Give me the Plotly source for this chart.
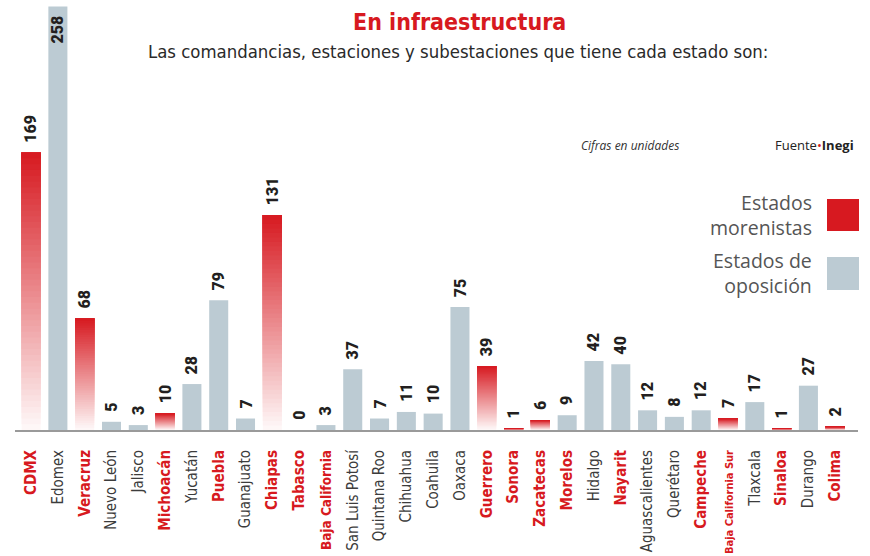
import plotly.graph_objects as go

states = ["CDMX", "Edomex", "Veracruz", "Nuevo León", "Jalisco", "Michoacán", "Yucatán",
          "Puebla", "Guanajuato", "Chiapas", "Tabasco", "Baja California", "San Luis Potosí",
          "Quintana Roo", "Chihuahua", "Coahuila", "Oaxaca", "Guerrero", "Sonora", "Zacatecas",
          "Morelos", "Hidalgo", "Nayarit", "Aguascalientes", "Querétaro", "Campeche",
          "Baja California Sur", "Tlaxcala", "Sinaloa", "Durango", "Colima"]
values = [169, 258, 68, 5, 3, 10, 28, 79, 7, 131, 0, 3, 37, 7, 11, 10, 75, 39, 1, 6,
          9, 42, 40, 12, 8, 12, 7, 17, 1, 27, 2]
# label colour group (1 = morenista, as printed in the label)
label_morena = [1, 0, 1, 0, 0, 1, 0, 1, 0, 1, 1, 1, 0, 0, 0, 0, 0, 1, 1, 1,
                1, 0, 1, 0, 0, 1, 1, 0, 1, 0, 1]
# bar colour group (1 = red bar, as printed)
bar_morena = [1, 0, 1, 0, 0, 1, 0, 0, 0, 1, 1, 0, 0, 0, 0, 0, 0, 1, 1, 1,
              0, 0, 0, 0, 0, 0, 1, 0, 1, 0, 1]

RED = "#D71920"
GRAY = "#BCCBD3"
TXT = "#3c3c3c"
COND = "DejaVu Sans Condensed, Liberation Sans Narrow, Roboto"

# layout geometry
W, H = 870, 556
ML, MR, MT, MB = 15, 12, 0, 126
PW, PH = W - ML - MR, H - MT - MB


def px(x):
    return (x - ML) / PW


def py(y):
    return (H - MB - y) / PH


x_idx = list(range(len(states)))
fig = go.Figure()

# gray bars
gx = [i for i in x_idx if not bar_morena[i]]
fig.add_trace(go.Bar(x=gx, y=[values[i] for i in gx], marker_color=GRAY,
                     marker_line_width=0, width=0.71, hoverinfo="skip"))

# red gradient bars (overlaid slices, white at the base to red at the top)
rx = [i for i in x_idx if bar_morena[i]]
N = 48


def mix(t):
    r0, g0, b0 = 255, 250, 250
    r1, g1, b1 = 215, 25, 32
    return "rgb(%d,%d,%d)" % (r0 + (r1 - r0) * t, g0 + (g1 - g0) * t, b0 + (b1 - b0) * t)


for k in range(N):
    f = k / N
    fig.add_trace(go.Bar(x=rx, y=[values[i] * (1 - f) for i in rx],
                         base=[values[i] * f for i in rx],
                         marker_color=mix((k + 0.5) / N), marker_line_width=0,
                         width=0.71, hoverinfo="skip"))

VFONT = dict(family="Roboto", size=16, color="#231f20", weight=900)
ann = []
for i in x_idx:
    v = values[i]
    if v == max(values):
        ann.append(dict(x=i, y=v, xref="x", yref="y", text=f"{v}", textangle=-90,
                        showarrow=False, xanchor="center", yanchor="top", yshift=-7, font=VFONT))
    else:
        ann.append(dict(x=i, y=v, xref="x", yref="y", text=f"{v}", textangle=-90,
                        showarrow=False, xanchor="center", yanchor="bottom", yshift=8, font=VFONT))


def pann(x, y, text, font, xanchor="center", align="center"):
    return dict(x=px(x), y=py(y), xref="paper", yref="paper", showarrow=False,
                xanchor=xanchor, yanchor="middle", align=align, text=text, font=font)


# titles
ann.append(pann(459, 22, "<b>En infraestructura</b>", dict(family=COND, size=23, color=RED)))
ann.append(pann(458, 52, "Las comandancias, estaciones y subestaciones que tiene cada estado son:",
                dict(family=COND, size=18.4, color="#2a2a2a")))
ann.append(pann(630, 145, "<i>Cifras en unidades</i>", dict(family="Open Sans", size=12, color="#333")))
ann.append(pann(856, 145, "Fuente<span style='color:%s'>•</span><b>Inegi</b>" % RED,
                dict(family="Open Sans", size=13, color="#222"), xanchor="right"))
# legend
ann.append(pann(814, 215, "Estados<br>morenistas", dict(family="Open Sans", size=19.5, color="#555"),
                xanchor="right", align="right"))
ann.append(pann(814, 273, "Estados de<br>oposición", dict(family="Open Sans", size=19.5, color="#555"),
                xanchor="right", align="right"))

shapes = [
    dict(type="rect", xref="paper", yref="paper", x0=px(827), x1=px(859), y0=py(231), y1=py(199),
         fillcolor=RED, line_width=0),
    dict(type="rect", xref="paper", yref="paper", x0=px(827), x1=px(859), y0=py(290), y1=py(257),
         fillcolor=GRAY, line_width=0),
]

small = {"Baja California": 13.5, "Baja California Sur": 11}
ticktext = []
for s, m in zip(states, label_morena):
    sz = small.get(s)
    st = f"font-size:{sz}px;" if sz else ""
    if m:
        ticktext.append(f"<span style='color:{RED};{st}'><b>{s}</b></span>")
    else:
        ticktext.append(f"<span style='{st}'>{s}</span>" if st else s)

fig.update_layout(
    width=W, height=H, margin=dict(l=ML, r=MR, t=MT, b=MB, autoexpand=False),
    paper_bgcolor="white", plot_bgcolor="white",
    barmode="overlay", showlegend=False,
    annotations=ann, shapes=shapes,
    xaxis=dict(range=[-0.6, 30.85], tickmode="array", tickvals=x_idx, ticktext=ticktext,
               tickangle=-90, showgrid=False, zeroline=False, showline=True,
               linecolor="#9a9a9a", linewidth=2, ticks="", ticklabelstandoff=12,
               automargin=False,
               tickfont=dict(family=COND, size=15, color=TXT)),
    yaxis=dict(range=[0, 262], visible=False, showgrid=False, zeroline=False),
)

fig.write_html("out.html", config={"displayModeBar": False},
               post_script="document.body.style.margin='0px';")
